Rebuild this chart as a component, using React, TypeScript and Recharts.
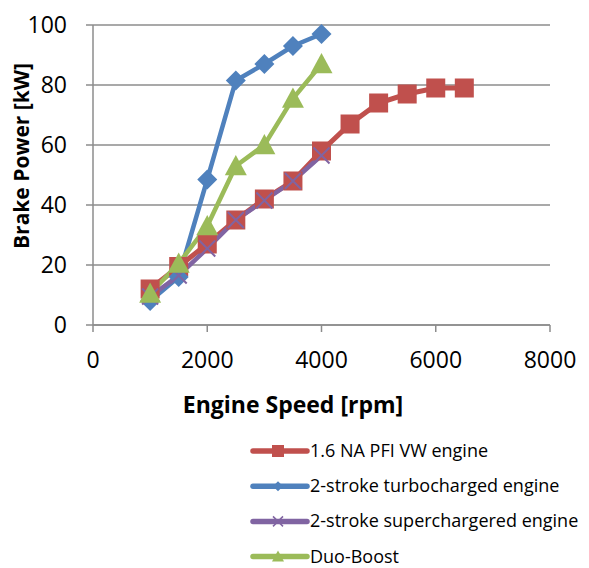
import React from 'react';
import { LineChart, Line, XAxis, YAxis, CartesianGrid, Label } from 'recharts';

// engine speed [rpm] and brake power [kW] per engine
const naSpeed = [1000, 1500, 2000, 2500, 3000, 3500, 4000, 4500, 5000, 5500, 6000, 6500];
const naPower = [12, 19.5, 27, 35, 42, 48, 58, 67, 74, 77, 79, 79];

const turboSpeed = [1000, 1500, 2000, 2500, 3000, 3500, 4000];
const turboPower = [8, 16, 48.5, 81.5, 87, 93, 97];

const superSpeed = [1000, 1500, 2000, 2500, 3000, 3500, 4000];
const superPower = [9.5, 16.5, 25.5, 35, 41.5, 48, 56.5];

const duoSpeed = [1000, 1500, 2000, 2500, 3000, 3500, 4000];
const duoPower = [10.5, 20.5, 33, 53, 60, 75.5, 87];

const xTicks = [0, 2000, 4000, 6000, 8000];
const yTicks = [0, 20, 40, 60, 80, 100];

const toPoints = (xs: number[], ys: number[]) => xs.map((x, i) => ({ x, y: ys[i] }));

const RED = '#C0504D';
const BLUE = '#4F81BD';
const PURPLE = '#8064A2';
const GREEN = '#9BBB59';
const FONT = "'Open Sans', sans-serif";

const square = (color: string, s = 19) => (p: any) => (
  <rect key={`sq-${p.index}`} x={p.cx - s / 2} y={p.cy - s / 2} width={s} height={s} fill={color} />
);

const diamond = (color: string, s = 10) => (p: any) => (
  <polygon
    key={`dm-${p.index}`}
    points={`${p.cx},${p.cy - s} ${p.cx + s},${p.cy} ${p.cx},${p.cy + s} ${p.cx - s},${p.cy}`}
    fill={color}
  />
);

const cross = (color: string, s = 8) => (p: any) => (
  <path
    key={`cr-${p.index}`}
    d={`M${p.cx - s},${p.cy - s}L${p.cx + s},${p.cy + s}M${p.cx - s},${p.cy + s}L${p.cx + s},${p.cy - s}`}
    stroke={color}
    strokeWidth={2}
  />
);

const triangle = (color: string, s = 11) => (p: any) => (
  <polygon
    key={`tr-${p.index}`}
    points={`${p.cx},${p.cy - s} ${p.cx + s},${p.cy + s * 0.85} ${p.cx - s},${p.cy + s * 0.85}`}
    fill={color}
  />
);

const legendItems = [
  { name: '1.6 NA PFI VW engine', color: RED, mark: 'square' },
  { name: '2-stroke turbocharged engine', color: BLUE, mark: 'diamond' },
  { name: '2-stroke superchargered engine', color: PURPLE, mark: 'cross' },
  { name: 'Duo-Boost', color: GREEN, mark: 'triangle' },
];

const LegendBox = () => (
  <svg width={344} height={138} style={{ position: 'absolute', left: 245, top: 430 }}>
    {legendItems.map((it, i) => {
      const y = 21 + i * 35.2;
      const cx = 33;
      return (
        <g key={it.name}>
          <line x1={8} x2={62} y1={y} y2={y} stroke={it.color} strokeWidth={5.5} strokeLinecap="round" />
          {it.mark === 'square' && <rect x={cx - 6} y={y - 6} width={12} height={12} fill={it.color} />}
          {it.mark === 'diamond' && (
            <polygon points={`${cx},${y - 5} ${cx + 5},${y} ${cx},${y + 5} ${cx - 5},${y}`} fill={it.color} />
          )}
          {it.mark === 'cross' && (
            <path d={`M${cx - 5},${y - 5}L${cx + 5},${y + 5}M${cx - 5},${y + 5}L${cx + 5},${y - 5}`} stroke={it.color} strokeWidth={1.5} />
          )}
          {it.mark === 'triangle' && (
            <polygon points={`${cx},${y - 6} ${cx + 6},${y + 5} ${cx - 6},${y + 5}`} fill={it.color} />
          )}
          <text x={65} y={y + 6} fontSize={18} fontFamily={FONT} fill="#000">
            {it.name}
          </text>
        </g>
      );
    })}
  </svg>
);

export default function App() {
  return (
    <div style={{ position: 'absolute', left: 0, top: 0, width: 589, height: 568, background: '#fff' }}>
      <LineChart width={589} height={568} margin={{ top: 25, right: 39, bottom: 143, left: 0 }}>
        <CartesianGrid vertical={false} stroke="#8c8c8c" strokeWidth={1.5} />
        <XAxis
          type="number"
          dataKey="x"
          domain={[0, 8000]}
          ticks={xTicks}
          interval={0}
          height={100}
          stroke="#8c8c8c"
          strokeWidth={1.5}
          tickSize={7}
          tick={{ fontSize: 23, fontFamily: FONT, fill: '#000', dy: 18 }}
        >
          <Label
            content={() => (
              <text x={293} y={413} textAnchor="middle" fontSize={23} fontWeight={700} fontFamily={FONT} fill="#000">
                Engine Speed [rpm]
              </text>
            )}
          />
        </XAxis>
        <YAxis
          type="number"
          domain={[0, 100]}
          ticks={yTicks}
          interval={0}
          width={93}
          stroke="#8c8c8c"
          strokeWidth={1.5}
          tickSize={7}
          tick={{ fontSize: 23, fontFamily: FONT, fill: '#000', dx: -17 }}
        >
          <Label
            content={() => (
              <text
                transform="translate(29,156) rotate(-90)"
                textAnchor="middle"
                fontSize={21}
                fontWeight={700}
                fontFamily={FONT}
                fill="#000"
              >
                Brake Power [kW]
              </text>
            )}
          />
        </YAxis>
        <Line
          data={toPoints(naSpeed, naPower)}
          dataKey="y"
          name="1.6 NA PFI VW engine"
          stroke={RED}
          strokeWidth={5}
          dot={square(RED)}
          isAnimationActive={false}
        />
        <Line
          data={toPoints(turboSpeed, turboPower)}
          dataKey="y"
          name="2-stroke turbocharged engine"
          stroke={BLUE}
          strokeWidth={4.5}
          dot={diamond(BLUE)}
          isAnimationActive={false}
        />
        <Line
          data={toPoints(superSpeed, superPower)}
          dataKey="y"
          name="2-stroke superchargered engine"
          stroke={PURPLE}
          strokeWidth={4.5}
          dot={cross(PURPLE)}
          isAnimationActive={false}
        />
        <Line
          data={toPoints(duoSpeed, duoPower)}
          dataKey="y"
          name="Duo-Boost"
          stroke={GREEN}
          strokeWidth={4.5}
          dot={triangle(GREEN)}
          isAnimationActive={false}
        />
      </LineChart>
      <LegendBox />
    </div>
  );
}
